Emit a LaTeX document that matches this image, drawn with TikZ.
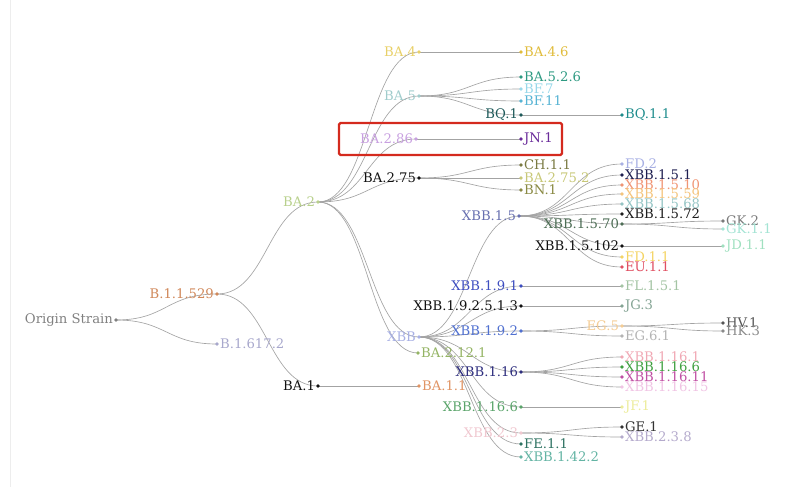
\documentclass[tikz,border=0pt]{standalone}
\usepackage{fontspec}
\setmainfont{DejaVu Serif}
\usetikzlibrary{calc,backgrounds}
\definecolor{cOS}{HTML}{808080}\definecolor{cBa}{HTML}{D0885A}\definecolor{cBb}{HTML}{A8A8CC}
\definecolor{cBAtwo}{HTML}{B8D08C}\definecolor{cK}{HTML}{111111}\definecolor{cBAfour}{HTML}{E8D068}
\definecolor{cBAfoursix}{HTML}{E0BC3C}\definecolor{cBAfive}{HTML}{A0CCCC}\definecolor{cBAfivetwo}{HTML}{2E9A82}
\definecolor{cBFseven}{HTML}{98D8EA}\definecolor{cBFeleven}{HTML}{58B4D4}\definecolor{cBQ}{HTML}{1E5A5A}
\definecolor{cBQone}{HTML}{1E8C8C}\definecolor{cBAeightsix}{HTML}{C8A0E0}\definecolor{cJN}{HTML}{6A2C9A}
\definecolor{cCH}{HTML}{7A7A42}\definecolor{cBAsevfive}{HTML}{C8C878}\definecolor{cBN}{HTML}{8A8A44}
\definecolor{cXBB}{HTML}{A8B0E4}\definecolor{cBAtwelve}{HTML}{94B464}\definecolor{cXBBfive}{HTML}{6870B0}
\definecolor{cXa}{HTML}{1E1E50}\definecolor{cXb}{HTML}{F09474}\definecolor{cXc}{HTML}{F4C47C}
\definecolor{cXd}{HTML}{94C4C4}\definecolor{cXe}{HTML}{1E1E1E}\definecolor{cXf}{HTML}{4E6E56}
\definecolor{cGKa}{HTML}{7A7A7A}\definecolor{cGKb}{HTML}{A4E4D4}\definecolor{cJD}{HTML}{A0E0C0}
\definecolor{cFD}{HTML}{F4D464}\definecolor{cEU}{HTML}{E05062}\definecolor{cXnine}{HTML}{3E4EC0}
\definecolor{cFL}{HTML}{A4C4A4}\definecolor{cJG}{HTML}{84A494}\definecolor{cXninetwo}{HTML}{5070D0}
\definecolor{cEGfive}{HTML}{F4CC94}\definecolor{cEGsix}{HTML}{B4B4B4}\definecolor{cHV}{HTML}{555555}
\definecolor{cHK}{HTML}{8A8A8A}\definecolor{cXsixteen}{HTML}{2E2E7E}\definecolor{cXsa}{HTML}{F0A8B4}
\definecolor{cXsb}{HTML}{40A040}\definecolor{cXsc}{HTML}{C050A4}\definecolor{cXsd}{HTML}{F0C4E4}
\definecolor{cBAoneone}{HTML}{E09464}\definecolor{cXse}{HTML}{5AA46A}\definecolor{cJF}{HTML}{ECEC9C}
\definecolor{cXtwo}{HTML}{F0C8D0}\definecolor{cGE}{HTML}{333333}\definecolor{cXtwoe}{HTML}{B4AACC}
\definecolor{cFE}{HTML}{2E7262}\definecolor{cXfortytwo}{HTML}{64B4A4}\definecolor{cRed}{HTML}{D42A1E}
\tikzset{
  dotn/.style={circle,inner sep=0pt,minimum size=3.8pt,fill=#1},
  link/.style={draw=black!36,line width=0.65pt},
  every label/.style={font=\fontsize{13.2}{15}\selectfont,inner sep=0.8pt},
  redbox/.style={draw=cRed,line width=2.3pt,rounded corners=1.5pt}
}
\newcommand\lk[2]{\draw[link] let \p1=(#1.center),\p2=(#2.center) in (\p1) .. controls ({(\x1+\x2)/2},\y1) and ({(\x1+\x2)/2},\y2) .. (\p2);}
\newcommand\nl[5]{\node[dotn=#4,label={[text=#4]left:#5}] (#1) at (#2,#3) {};}
\newcommand\nr[5]{\node[dotn=#4,label={[text=#4]right:#5}] (#1) at (#2,#3) {};}
\begin{document}
\begin{tikzpicture}[x=1pt,y=-1pt,label distance=0pt]
\useasboundingbox (0,0) rectangle (810,487);
\draw[draw=black!7,line width=0.8pt] (10,0) -- (10,487);
\nl{os}{116}{320}{cOS}{Origin Strain}
\nl{b529}{217}{294}{cBa}{B.1.1.529}
\nr{b617}{217}{344}{cBb}{B.1.617.2}
\nl{ba2}{318}{202}{cBAtwo}{BA.2}
\nl{ba1}{318}{386}{cK}{BA.1}
\nl{ba4}{419}{52}{cBAfour}{BA.4}
\nr{ba46}{521}{52}{cBAfoursix}{BA.4.6}
\nl{ba5}{419}{96}{cBAfive}{BA.5}
\nr{ba526}{521}{77}{cBAfivetwo}{BA.5.2.6}
\nr{bf7}{521}{89}{cBFseven}{BF.7}
\nr{bf11}{521}{101}{cBFeleven}{BF.11}
\nl{bq1}{521}{115}{cBQ}{BQ.1}
\nr{bq11}{622}{115}{cBQone}{BQ.1.1}
\nl{ba286}{416}{139}{cBAeightsix}{BA.2.86}
\nr{jn1}{521}{139}{cJN}{JN.1}
\nl{ba275}{419}{178}{cK}{BA.2.75}
\nr{ch11}{521}{165}{cCH}{CH.1.1}
\nr{ba2752}{521}{178}{cBAsevfive}{BA.2.75.2}
\nr{bn1}{521}{190}{cBN}{BN.1}
\nl{xbb}{419}{337}{cXBB}{XBB}
\nr{ba2121}{418}{353}{cBAtwelve}{BA.2.12.1}
\nl{xbb15}{519}{216}{cXBBfive}{XBB.1.5}
\nr{fd2}{622}{164}{cXBB}{FD.2}
\nr{xbb151}{622}{175}{cXa}{XBB.1.5.1}
\nr{xbb1510}{622}{185}{cXb}{XBB.1.5.10}
\nr{xbb1559}{622}{194}{cXc}{XBB.1.5.59}
\nr{xbb1568}{622}{204}{cXd}{XBB.1.5.68}
\nr{xbb1572}{622}{214}{cXe}{XBB.1.5.72}
\nl{xbb1570}{622}{224}{cXf}{XBB.1.5.70}
\nr{gk2}{723}{221}{cGKa}{GK.2}
\nr{gk11}{723}{229}{cGKb}{GK.1.1}
\nl{xbb15102}{622}{246}{cK}{XBB.1.5.102}
\nr{jd11}{723}{246}{cJD}{JD.1.1}
\nr{fd11}{622}{257}{cFD}{FD.1.1}
\nr{eu11}{622}{267}{cEU}{EU.1.1}
\nl{xbb191}{521}{286}{cXnine}{XBB.1.9.1}
\nr{fl151}{622}{286}{cFL}{FL.1.5.1}
\nl{xbb19}{521}{306}{cK}{XBB.1.9.2.5.1.3}
\nr{jg3}{622}{306}{cJG}{JG.3}
\nl{xbb192}{521}{331}{cXninetwo}{XBB.1.9.2}
\nl{eg5}{622}{326}{cEGfive}{EG.5}
\nr{eg61}{622}{336}{cEGsix}{EG.6.1}
\nr{hv1}{723}{323}{cHV}{HV.1}
\nr{hk3}{723}{331}{cHK}{HK.3}
\nl{xbb116}{521}{372}{cXsixteen}{XBB.1.16}
\nr{xbb1161}{622}{357}{cXsa}{XBB.1.16.1}
\nr{xbb1166}{622}{367}{cXsb}{XBB.1.16.6}
\nr{xbb11611}{622}{377}{cXsc}{XBB.1.16.11}
\nr{xbb11615}{622}{387}{cXsd}{XBB.1.16.15}
\nr{ba11}{419}{386}{cBAoneone}{BA.1.1}
\nl{xbb1166b}{521}{407}{cXse}{XBB.1.16.6}
\nr{jf1}{622}{407}{cJF}{JF.1}
\nl{xbb23}{521}{433}{cXtwo}{XBB.2.3}
\nr{ge1}{622}{427}{cGE}{GE.1}
\nr{xbb238}{622}{437}{cXtwoe}{XBB.2.3.8}
\nr{fe11}{521}{444}{cFE}{FE.1.1}
\nr{xbb1422}{521}{457}{cXfortytwo}{XBB.1.42.2}
\begin{pgfonlayer}{background}
\lk{os}{b529}\lk{os}{b617}
\lk{b529}{ba2}\lk{b529}{ba1}
\lk{ba2}{ba4}\lk{ba2}{ba5}\lk{ba2}{ba286}\lk{ba2}{ba275}\lk{ba2}{xbb}\lk{ba2}{ba2121}
\lk{ba4}{ba46}
\lk{ba5}{ba526}\lk{ba5}{bf7}\lk{ba5}{bf11}\lk{ba5}{bq1}
\lk{bq1}{bq11}
\lk{ba286}{jn1}
\lk{ba275}{ch11}\lk{ba275}{ba2752}\lk{ba275}{bn1}
\lk{xbb}{xbb15}\lk{xbb}{xbb191}\lk{xbb}{xbb19}\lk{xbb}{xbb192}\lk{xbb}{xbb116}
\lk{xbb}{xbb1166b}\lk{xbb}{xbb23}\lk{xbb}{fe11}\lk{xbb}{xbb1422}
\lk{xbb15}{fd2}\lk{xbb15}{xbb151}\lk{xbb15}{xbb1510}\lk{xbb15}{xbb1559}\lk{xbb15}{xbb1568}
\lk{xbb15}{xbb1572}\lk{xbb15}{xbb1570}\lk{xbb15}{xbb15102}\lk{xbb15}{fd11}\lk{xbb15}{eu11}
\lk{xbb1570}{gk2}\lk{xbb1570}{gk11}
\lk{xbb15102}{jd11}
\lk{xbb191}{fl151}\lk{xbb19}{jg3}
\lk{xbb192}{eg5}\lk{xbb192}{eg61}
\lk{eg5}{hv1}\lk{eg5}{hk3}
\lk{xbb116}{xbb1161}\lk{xbb116}{xbb1166}\lk{xbb116}{xbb11611}\lk{xbb116}{xbb11615}
\lk{xbb1166b}{jf1}
\lk{xbb23}{ge1}\lk{xbb23}{xbb238}
\lk{ba1}{ba11}
\end{pgfonlayer}
\draw[redbox] (339,123) rectangle (562,155);
\end{tikzpicture}
\end{document}
